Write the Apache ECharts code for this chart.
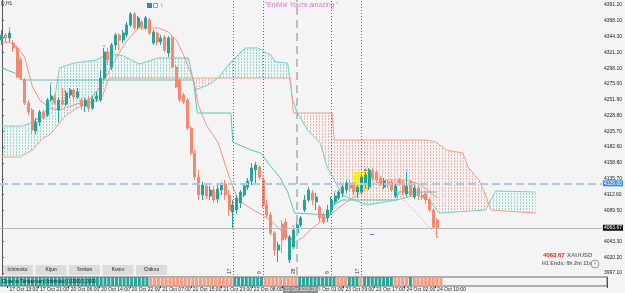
<!DOCTYPE html>
<html>
<head>
<meta charset="utf-8">
<title>XAUUSD,H1 Ichimoku</title>
<script src="https://cdn.jsdelivr.net/npm/echarts@6/dist/echarts.min.js"></script>
<style>
  html, body { margin: 0; padding: 0; background: #f4f4f4; }
  #main { width: 625px; height: 293px; }
</style>
</head>
<body>
<div id="main"></div>
<script>
// H1 candles, index 2 = 17 Oct 13:00 (one slot per bar, 159 slots incl. 26 future bars)
var opens = [4339.7,4347.1,4342.6,4335.3,4327.9,4310.3,4280.9,4247.1,4236.8,4205.9,
  4219.1,4233.9,4229.4,4251.5,4255.9,4236.8,4251.5,4245.6,4258.9,4266.2,
  4255.9,4251.5,4242.7,4251.5,4239.7,4253.0,4251.5,4283.8,4322.1,4300.0,
  4332.4,4347.1,4339.7,4347.1,4361.8,4377.9,4358.8,4366.2,4357.4,4369.1,
  4335.3,4350.0,4336.8,4344.1,4320.6,4342.6,4300.0,4280.9,4258.9,4251.5,
  4210.3,4173.5,4138.3,4111.8,4125.0,4110.3,4119.2,4105.9,4119.2,4128.0,
  4111.8,4086.8,4089.8,4100.1,4111.8,4123.6,4132.4,4148.6,4153.0,4133.9,
  4097.1,4082.4,4055.9,4030.9,4069.2,4072.1,4016.2,4035.3,4055.9,4067.7,
  4089.8,4104.5,4114.8,4101.5,4094.2,4082.4,4078.0,4089.8,4101.5,4107.4,
  4114.8,4119.2,4129.4,4126.5,4116.2,4116.2,4126.5,4123.6,4147.1,4145.6,
  4136.8,4123.6,4130.9,4130.9,4110.3,4133.9,4129.4,4113.3,4130.9,4108.9,
  4122.1,4111.8,4113.3,4104.5,4089.8,4075.0];
var closes = [4347.1,4342.6,4350.0,4327.9,4285.3,4283.8,4247.1,4233.9,4207.4,4219.1,
  4233.9,4225.0,4251.5,4257.4,4247.1,4251.5,4245.6,4261.8,4266.2,4255.9,
  4263.3,4242.7,4251.5,4239.7,4253.0,4257.4,4283.8,4322.1,4310.3,4332.4,
  4347.1,4339.7,4350.0,4361.8,4377.9,4357.4,4372.1,4358.8,4372.1,4350.0,
  4351.5,4336.8,4342.6,4325.0,4342.6,4300.0,4270.6,4251.5,4248.6,4210.3,
  4173.5,4138.3,4111.8,4126.5,4110.3,4119.2,4104.5,4120.6,4128.0,4111.8,
  4089.8,4097.1,4107.4,4116.2,4125.0,4132.4,4151.5,4155.9,4138.3,4097.1,
  4082.4,4055.9,4030.9,4038.3,4045.6,4048.6,4050.1,4060.3,4067.7,4078.0,
  4104.5,4119.2,4104.5,4108.9,4078.0,4072.1,4089.8,4104.5,4110.3,4116.2,
  4123.6,4129.4,4122.1,4116.2,4123.6,4138.3,4141.2,4148.6,4136.8,4133.9,
  4128.0,4132.4,4126.5,4119.2,4125.0,4129.4,4116.2,4125.0,4111.8,4122.1,
  4111.8,4108.9,4104.5,4089.8,4064.8,4063.67];
var highs = [4354.4,4350.0,4354.4,4339.7,4330.9,4314.7,4283.8,4251.5,4239.7,4225.0,
  4236.8,4236.8,4254.4,4273.6,4260.3,4255.9,4269.1,4266.2,4269.1,4269.1,
  4269.1,4254.4,4254.4,4257.4,4257.4,4263.3,4295.6,4327.9,4327.9,4335.3,
  4350.0,4350.0,4354.4,4366.2,4380.9,4380.9,4375.0,4369.1,4375.0,4372.1,
  4354.4,4351.5,4347.1,4347.1,4345.6,4345.6,4303.0,4283.8,4261.8,4254.4,
  4213.3,4178.0,4148.6,4130.9,4129.4,4125.0,4125.0,4126.5,4130.9,4133.9,
  4119.2,4104.5,4111.8,4119.2,4129.4,4136.8,4158.8,4160.3,4155.9,4136.8,
  4104.5,4086.8,4058.9,4042.7,4075.0,4078.0,4053.0,4063.3,4070.6,4080.9,
  4111.8,4123.6,4119.2,4114.8,4097.1,4086.8,4097.1,4108.9,4114.8,4119.2,
  4126.5,4133.9,4133.9,4130.9,4126.5,4142.7,4145.6,4151.5,4151.5,4148.6,
  4139.7,4136.8,4133.9,4133.9,4128.0,4136.8,4133.9,4145.6,4133.9,4126.5,
  4125.0,4116.2,4117.7,4107.4,4092.7,4078.0];
var lows = [4332.4,4336.8,4336.8,4322.1,4283.8,4280.9,4244.2,4229.4,4201.5,4201.5,
  4213.3,4222.1,4226.5,4248.6,4244.2,4219.1,4242.7,4242.7,4254.4,4251.5,
  4253.0,4236.8,4233.9,4233.9,4236.8,4248.6,4248.6,4280.9,4303.0,4295.6,
  4325.0,4325.0,4335.3,4344.1,4358.8,4354.4,4355.9,4354.4,4354.4,4347.1,
  4332.4,4332.4,4332.4,4322.1,4314.7,4298.6,4269.1,4248.6,4245.6,4207.4,
  4170.6,4133.9,4104.5,4104.5,4105.9,4104.5,4100.1,4100.1,4111.8,4104.5,
  4080.9,4063.3,4083.8,4092.7,4108.9,4119.2,4126.5,4129.4,4133.9,4092.7,
  4078.0,4053.0,4022.1,4013.3,4026.5,4045.6,4011.8,4032.4,4053.0,4064.8,
  4086.8,4101.5,4097.1,4089.8,4072.1,4069.2,4072.1,4083.8,4097.1,4104.5,
  4108.9,4114.8,4116.2,4111.8,4107.4,4111.8,4122.1,4119.2,4132.4,4129.4,
  4125.0,4120.6,4122.1,4116.2,4107.4,4125.0,4111.8,4108.9,4108.9,4105.9,
  4104.5,4104.5,4098.6,4086.8,4061.8,4048.6];

// Ichimoku lines as [bar index, price] vertices
var tenkan = [[0,4335.3],[2.1,4336.8],[4.7,4325],[6,4314.7],[8.1,4270.6],[10,4251.5],[12.6,4239.7],
  [15.2,4236.8],[19.1,4244.2],[23,4251.5],[25.7,4269.1],[27.8,4288.3],[29.6,4307.4],[32.2,4332.4],
  [34.3,4347.1],[36.2,4357.4],[41.4,4357.4],[44,4351.5],[46.1,4339.7],[48,4317.7],[50.6,4280.9],
  [51.9,4244.2],[54,4214.7],[57.1,4189],[60.3,4133.9],[62.4,4104.5],[66.3,4089.8],[68.9,4082.4],
  [71.5,4072.1],[74.1,4057.4],[77.3,4042.7],[79.4,4048.6],[82,4063.3],[86.7,4082.4],[89.9,4097.1],
  [93.8,4111.8],[97.7,4126.5],[101.6,4133.9],[106.9,4133.9],[110.8,4126.5],[115,4107.4]];
var kijun = [[0,4298.6],[4.7,4288.3],[5.3,4280.9],[50.6,4280.9],[51.6,4232.4],[60.5,4232.4],[61,4189.7],
  [65.8,4178.0],[68.4,4173.5],[69.4,4166.1],[70.7,4155.9],[73.4,4138.3],[75.5,4116.2],[77.3,4085.3],
  [86.7,4082.4],[87.5,4097.1],[89.9,4104.5],[104.3,4104.5],[104.8,4116.2],[115,4116.2]];
var spanA = [[0,4213.2],[5.5,4213.2],[8.1,4219.1],[10.8,4229.4],[12.6,4244.2],[13.9,4251.5],[15.2,4298.6],
  [19.1,4305.9],[24.9,4310.3],[28.3,4320.6],[32.2,4316.2],[36.2,4304.4],[41.4,4313.3],[49.3,4313.3],
  [51.1,4266.2],[54.5,4273.6],[57.1,4283.8],[60.5,4307.4],[64.2,4328.0],[67.6,4328.0],[69.4,4322.1],
  [71,4317.7],[72.3,4307.4],[75.5,4305.9],[76.8,4251.5],[78.1,4232.4],[80.7,4207.4],[84.1,4188.2],
  [85.9,4153.0],[87.8,4133.9],[89.9,4111.8],[96.4,4097.1],[104.3,4104.5],[109.5,4111.8],[112.9,4104.5],
  [115.5,4085.3],[127.8,4089.8],[129.1,4104.5],[130.5,4117.7],[141,4116.2]];
var spanB = [[0,4167.6],[4.7,4167.6],[8.1,4178.0],[10.8,4195.6],[12.6,4200.0],[17,4229.4],[21.2,4244.2],
  [25.7,4251.5],[26.5,4255.9],[28.3,4283.8],[76.2,4283.8],[77,4232.4],[87.2,4232.4],[87.8,4192.7],
  [112.1,4192.7],[114.7,4189.7],[117.4,4178.0],[121.8,4173.5],[123.1,4153.0],[126,4133.9],
  [127.8,4111.8],[129.1,4089.8],[141,4085.3]];

// Close vs Tenkan-sen histogram: 1 = above (teal), 0 = below (salmon)
var closeVsTenkan = [1,1,1,1,1,1,1,1,1,1, 1,1,1,1,1,1,1,1,1,1, 1,1,1,1,1,1,1,1,1,1,
  1,1,1,1,1,1,1,1,1,0, 0,0,0,0,0,0,0,0,0,0, 0,0,0,0,0,0,0,0,0,0,
  0,1,1,1,1,1,1,1,1,0, 0,0,0,0,0,0,0,0,1,1, 1,1,1,1,1,1,1,1,0,0,
  0,1,1,1,0,1,1,1,1,1, 1,1,1,0,0,0,0,1,0,0, 0,0,0,0,0,0];

var priceTicks = [4391.2,4368.1,4344.3,4321.2,4298.1,4275.0,4251.9,4228.8,4205.7,4182.6,4158.8,
  4135.7,4112.6,4089.5,4043.3,4020.2,3997.1];
var timeTickIdx = [2,10,18,26,34,42,50,58,66,74,82,90,98,106,114];
var timeTickText = ['17 Oct 13:00','17 Oct 21:00','20 Oct 06:00','20 Oct 14:00','20 Oct 22:00',
  '21 Oct 07:00','21 Oct 15:00','21 Oct 23:00','22 Oct 08:00','22 Oct 16:00','23 Oct 01:00',
  '23 Oct 09:00','23 Oct 17:00','24 Oct 02:00','24 Oct 10:00'];
var cycleIdx = [61, 69, 78, 87, 95];
var cycleText = ['17', '9', '26', '9', '17'];
var bidPrice = 4063.67;
var linePrice = 4129.00;

var SLOTS = 159;
var BULL = '#22a699', BEAR = '#f7876f';

var cats = [];
for (var i = 0; i < SLOTS; i++) cats.push(String(i));

var candleData = [];
for (var i = 0; i < opens.length; i++) candleData.push([opens[i], closes[i], lows[i], highs[i]]);

var histData = closeVsTenkan.map(function (s) {
  return { value: 1, itemStyle: { color: s ? '#20a89a' : '#fa9a80' } };
});

function dots(color) {
  var c = document.createElement('canvas');
  c.width = 3; c.height = 3;
  var g = c.getContext('2d');
  g.fillStyle = color;
  g.fillRect(1, 1, 1, 2);
  return { image: c, repeat: 'repeat' };
}
var tealDots = dots('#8fdcd2'), salmonDots = dots('#f7b3a3');

// edge of the cloud between read vertices (only used to fill between the two drawn lines)
function edgeAt(knots, x) {
  if (x <= knots[0][0]) return knots[0][1];
  for (var k = 1; k < knots.length; k++) {
    if (x <= knots[k][0]) {
      var a = knots[k - 1], b = knots[k];
      return a[1] + (x - a[0]) / ((b[0] - a[0]) || 1) * (b[1] - a[1]);
    }
  }
  return knots[knots.length - 1][1];
}

function renderCloud(params, api) {
  var xs = spanA.map(function (p) { return p[0]; }).concat(spanB.map(function (p) { return p[0]; }));
  xs.sort(function (a, b) { return a - b; });
  var children = [];
  function poly(pts, up) {
    children.push({
      type: 'polygon',
      shape: { points: pts.map(function (p) { return api.coord(p); }) },
      style: { fill: up ? tealDots : salmonDots }
    });
  }
  for (var k = 1; k < xs.length; k++) {
    var p = xs[k - 1], q = xs[k];
    if (q <= p) continue;
    var a0 = edgeAt(spanA, p), b0 = edgeAt(spanB, p), a1 = edgeAt(spanA, q), b1 = edgeAt(spanB, q);
    var d0 = a0 - b0, d1 = a1 - b1;
    if (d0 * d1 < 0) {
      var t = d0 / (d0 - d1), xc = p + t * (q - p), vc = a0 + t * (a1 - a0);
      poly([[p, a0], [xc, vc], [p, b0]], d0 > 0);
      poly([[xc, vc], [q, a1], [q, b1]], d1 > 0);
    } else {
      poly([[p, a0], [q, a1], [q, b1], [p, b0]], (d0 + d1) > 0);
    }
  }
  return { type: 'group', children: children };
}

var vLines = cycleIdx.map(function (x, k) {
  var dashed = k === 2;
  return {
    xAxis: x,
    lineStyle: dashed ? { color: '#bdbdbd', width: 2, type: [8, 5] } : { color: '#666', width: 1, type: [1, 2] },
    label: { show: true, formatter: cycleText[k], position: 'insideStartTop', fontSize: 5, color: '#333', distance: 1 }
  };
});

var myChart = echarts.init(document.getElementById('main'));
var option = {
  animation: false,
  backgroundColor: '#f4f4f4',
  textStyle: { fontFamily: 'Liberation Sans, DejaVu Sans, sans-serif' },
  grid: [
    { left: 0, right: 18, top: 0, height: 275 },
    { left: 0, right: 18, top: 277, height: 9, show: true, borderColor: '#666', borderWidth: 1 }
  ],
  xAxis: [
    { type: 'category', gridIndex: 0, data: cats, show: false },
    {
      type: 'category', gridIndex: 1, data: cats,
      axisLine: { show: false },
      axisTick: { show: true, length: 2, lineStyle: { color: '#444' },
        interval: function (i) { return timeTickIdx.indexOf(i) >= 0; } },
      axisLabel: {
        fontSize: 5, color: '#222', margin: 1, align: 'left',
        interval: function (i) { return timeTickIdx.indexOf(i) >= 0; },
        formatter: function (v, i) { var k = timeTickIdx.indexOf(i); return k >= 0 ? timeTickText[k] : ''; }
      }
    },
    { type: 'value', gridIndex: 0, min: -0.5, max: SLOTS - 0.5, show: false }
  ],
  yAxis: [
    {
      type: 'value', gridIndex: 0, position: 'right', min: 3994.2, max: 4398.55, scale: true,
      axisLine: { show: true, lineStyle: { color: '#555' } },
      axisTick: { show: true, length: 2, customValues: priceTicks, lineStyle: { color: '#555' } },
      axisLabel: { fontSize: 5, color: '#222', margin: 2, customValues: priceTicks,
        formatter: function (v) { return v.toFixed(2); } },
      splitLine: { show: false }
    },
    {
      type: 'value', gridIndex: 1, position: 'right', min: 0, max: 1,
      axisLine: { show: true, lineStyle: { color: '#555' } },
      axisTick: { show: false }, axisLabel: { show: false }, splitLine: { show: false }
    }
  ],
  series: [
    {
      type: 'custom', xAxisIndex: 2, yAxisIndex: 0, data: [0], renderItem: renderCloud, silent: true, z: 1,
      clip: true
    },
    {
      name: 'Senkou A', type: 'line', xAxisIndex: 2, yAxisIndex: 0, data: spanA, showSymbol: false,
      lineStyle: { color: '#6fd2c6', width: 1 }, z: 2
    },
    {
      name: 'Senkou B', type: 'line', xAxisIndex: 2, yAxisIndex: 0, data: spanB, showSymbol: false,
      lineStyle: { color: '#f5a08e', width: 1 }, z: 2
    },
    {
      name: 'Tenkan', type: 'line', xAxisIndex: 2, yAxisIndex: 0, data: tenkan, showSymbol: false,
      lineStyle: { color: '#f59683', width: 1 }, z: 2
    },
    {
      name: 'Kijun', type: 'line', xAxisIndex: 2, yAxisIndex: 0, data: kijun, showSymbol: false,
      lineStyle: { color: '#55c7ba', width: 1 }, z: 2,
      markLine: {
        silent: true, symbol: 'none',
        data: vLines.concat([
          { yAxis: linePrice, lineStyle: { color: '#a9c9ef', width: 2, type: [8, 4] },
            label: { show: true, position: 'end', formatter: linePrice.toFixed(2), fontSize: 5, color: '#fff',
              backgroundColor: '#3d8be0', padding: [1, 1, 0, 1], distance: 1 } },
          { yAxis: bidPrice, lineStyle: { color: '#b8b8b8', width: 1, type: 'solid' },
            label: { show: true, position: 'end', formatter: bidPrice.toFixed(2), fontSize: 5, color: '#fff',
              backgroundColor: '#111', padding: [1, 1, 0, 1], distance: 1 } },
          [{ coord: [102, 4130], lineStyle: { color: '#f08a78', width: 1, type: [1, 2] }, label: { show: false } },
           { coord: [115, 4052] }]
        ])
      },
      markArea: {
        silent: true,
        itemStyle: { color: '#ffff00', opacity: 1 },
        data: [[{ coord: [92.9, 4145.6] }, { coord: [96.4, 4116.2] }]]
      }
    },
    {
      type: 'candlestick', xAxisIndex: 0, yAxisIndex: 0, data: candleData, barWidth: '66%', z: 4,
      itemStyle: { color: BULL, color0: BEAR, borderColor: BULL, borderColor0: BEAR, borderWidth: 1 }
    },
    {
      name: 'fractals', type: 'scatter', xAxisIndex: 2, yAxisIndex: 0, symbol: 'circle', symbolSize: 2.5, z: 5,
      itemStyle: { color: '#e9a0e6' },
      data: [[2, 4357], [13, 4276], [27, 4331], [69, 4139], [77, 4066], [88, 4117], [104, 4130], [107, 4148],
        { value: [96, 4148.5], itemStyle: { color: '#ff2b2b' } }]
    },
    {
      type: 'bar', xAxisIndex: 1, yAxisIndex: 1, data: histData, barCategoryGap: '22%', z: 2
    }
  ],
  graphic: [
    { type: 'text', left: 1, top: 1, style: { text: 'D,H1', fontSize: 5, fill: '#333' } },
    { type: 'rect', shape: { x: 147, y: 3, width: 5, height: 5 }, style: { fill: '#3b7fc4' } },
    { type: 'rect', shape: { x: 153.5, y: 3.5, width: 4, height: 4 }, style: { fill: 'none', stroke: '#f07f6b', lineWidth: 1 } },
    { type: 'text', x: 161, y: 2, style: { text: '\\', fontSize: 6, fill: '#777' } },
    { type: 'text', x: 265, y: 2, style: { text: '"EmMa! You\'re amazing "', fontSize: 6.5, fill: '#e274dc' } },
    { type: 'text', x: 2, y: 279, z: 10, style: { text: 'Close vs Tenkan-sen (Ichimoku) 0.0000 1.0000', fontSize: 4.5, fill: '#1a1a1a' } },
    { type: 'text', x: 543, y: 252, style: { text: bidPrice.toFixed(2), fontSize: 6, fontWeight: 'bold', fill: '#ee1d1d' } },
    { type: 'text', x: 567, y: 252, style: { text: 'XAUUSD', fontSize: 6, fontWeight: 'bold', fill: '#777' } },
    { type: 'text', x: 542, y: 261, style: { text: 'H1 Ends: 0h 2m 11s', fontSize: 5.3, fontWeight: 'bold', fill: '#666' } },
    { type: 'circle', shape: { cx: 595, cy: 264, r: 4 }, style: { fill: 'none', stroke: '#999', lineWidth: 1 } },
    { type: 'line', shape: { x1: 595, y1: 261.5, x2: 595, y2: 264.5 }, style: { stroke: '#999', lineWidth: 1 } },
    { type: 'rect', shape: { x: 283, y: 286, width: 35, height: 7 }, z: 20, style: { fill: '#8d8d8d' } },
    { type: 'text', x: 285, y: 287, z: 21, style: { text: '22 Oct 2025 20:00', fontSize: 4.6, fill: '#e6e6e6' } },
    { type: 'rect', shape: { x: 370, y: 234, width: 4, height: 1 }, style: { fill: '#5a7fd0' } }
  ].concat(['Ichimoku', 'Kijun', 'Tenkan', 'Kumo', 'Chikou'].map(function (t, k) {
    var x = 2 + k * 33.5;
    return {
      type: 'group', x: x, y: 265, z: 10, children: [
        { type: 'rect', shape: { x: 0, y: 0, width: 31, height: 10, r: 1 }, style: { fill: '#dcdcdc' } },
        { type: 'text', x: 15.5, y: 5, style: { text: t, fontSize: 4.5, fontWeight: 'bold', fill: '#555', align: 'center', verticalAlign: 'middle' } }
      ]
    };
  }))
};
myChart.setOption(option);
</script>
</body>
</html>
